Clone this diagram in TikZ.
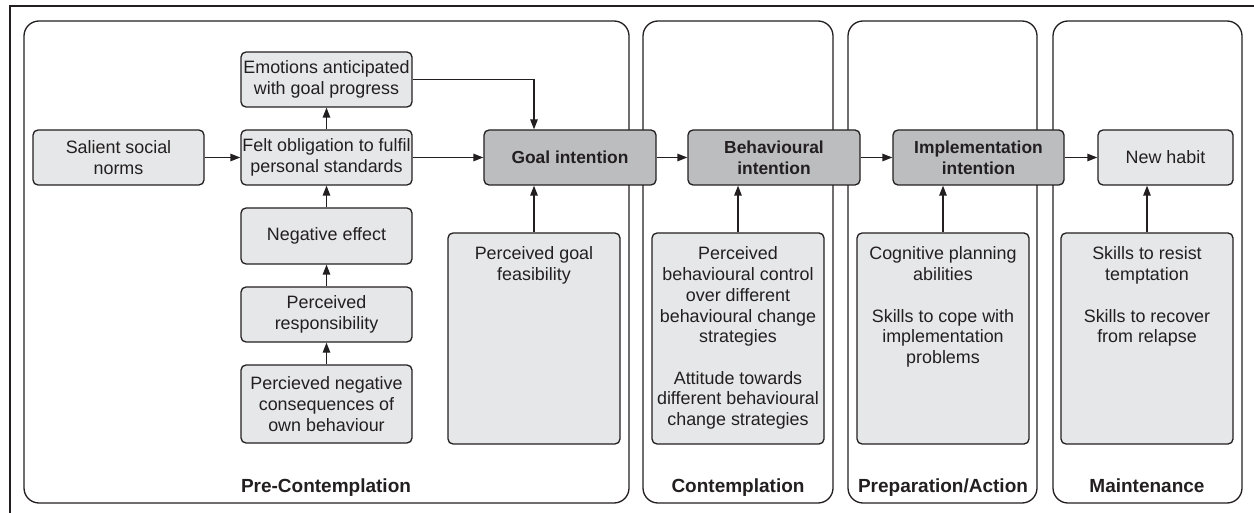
\documentclass[tikz,border=0pt]{standalone}
\usepackage{fontspec}
\setmainfont{Liberation Sans}
\usetikzlibrary{arrows.meta}
\definecolor{lightfill}{HTML}{E6E7E8}
\definecolor{darkfill}{HTML}{BCBDBF}
\definecolor{ink}{HTML}{231F20}
\tikzset{
  panel/.style={draw=ink, line width=1.3pt, rounded corners=15pt},
  box/.style={draw=ink, line width=1.3pt, rounded corners=5pt, fill=lightfill, align=center,
    inner xsep=1pt, inner ysep=2pt, font=\fontsize{17.9}{20.7}\selectfont, text=ink},
  dbox/.style={box, fill=darkfill, font=\fontsize{17.4}{20.7}\selectfont\bfseries},
  tallbox/.style={box, inner sep=0pt},
  stage/.style={anchor=base, font=\fontsize{19}{22}\selectfont\bfseries, text=ink},
  arr/.style={draw=ink, line width=1.3pt, -{Triangle[length=10pt,width=7.5pt]}},
}
\newcommand{\tallcontent}[1]{\parbox[c][211pt][t]{172pt}{\centering\vspace*{14pt}#1}}
\begin{document}
\begin{tikzpicture}[x=1pt,y=-1pt]
\useasboundingbox (0,0) rectangle (1254,513);
% outer frame
\draw[ink, line width=1.2pt] (10,513) -- (10,6) -- (1254,6);
% panels
\draw[panel] (24,21) rectangle (629,503);
\draw[panel] (643,21) rectangle (833,503);
\draw[panel] (848,21) rectangle (1037,503);
\draw[panel] (1053,21) rectangle (1242,503);
% stage labels
\node[stage] (l1) at (326,492) {Pre-Contemplation};
\node[stage] (l2) at (738,492) {Contemplation};
\node[stage] (l3) at (943,492) {Preparation/Action};
\node[stage] (l4) at (1147,492) {Maintenance};
% boxes
\node[box, minimum width=171pt, minimum height=55pt] (sal) at (118.5,157.5) {Salient social\\norms};
\node[box, minimum width=171pt, minimum height=55pt] (emo) at (326.5,79.5) {Emotions anticipated\\with goal progress};
\node[box, minimum width=171pt, minimum height=55pt] (felt) at (326.5,157.5) {Felt obligation to fulfil\\personal standards};
\node[box, minimum width=171pt, minimum height=56pt] (neg) at (326.5,236) {Negative effect};
\node[box, minimum width=171pt, minimum height=55pt] (resp) at (326.5,314.5) {Perceived\\responsibility};
\node[box, minimum width=171pt, minimum height=78pt] (cons) at (326.5,404) {Percieved negative\\consequences of\\own behaviour};
\node[dbox, minimum width=172pt, minimum height=55pt] (goal) at (570,157.5) {Goal intention};
\node[dbox, minimum width=172pt, minimum height=55pt] (beh) at (774,157.5) {Behavioural\\intention};
\node[dbox, minimum width=171pt, minimum height=55pt] (impl) at (978.5,157.5) {Implementation\\intention};
\node[box, minimum width=135pt, minimum height=55pt] (habit) at (1165.5,157.5) {New habit};
\node[tallbox] (feas) at (534,338.5) {\tallcontent{Perceived goal\\feasibility}};
\node[tallbox] (pbc) at (738,338.5) {\tallcontent{Perceived\\behavioural control\\over different\\behavioural change\\strategies\\[20.7pt]Attitude towards\\different behavioural\\change strategies}};
\node[tallbox] (cog) at (943,338.5) {\tallcontent{Cognitive planning\\abilities\\[20.7pt]Skills to cope with\\implementation\\problems}};
\node[tallbox] (skl) at (1147,338.5) {\tallcontent{Skills to resist\\temptation\\[20.7pt]Skills to recover\\from relapse}};
% connectors
\draw[arr] (sal) -- (felt);
\draw[arr] (felt) -- (goal);
\draw[arr] (felt) -- (emo);
\draw[arr] (neg) -- (felt);
\draw[arr] (resp) -- (neg);
\draw[arr] (cons) -- (resp);
\draw[arr] (emo.east) -| (feas.north |- goal.north);
\draw[arr] (feas.north) -- (feas.north |- goal.south);
\draw[arr] (goal) -- (beh);
\draw[arr] (pbc.north) -- (pbc.north |- beh.south);
\draw[arr] (beh) -- (impl);
\draw[arr] (cog.north) -- (cog.north |- impl.south);
\draw[arr] (impl) -- (habit);
\draw[arr] (skl.north) -- (skl.north |- habit.south);
\end{tikzpicture}
\end{document}
